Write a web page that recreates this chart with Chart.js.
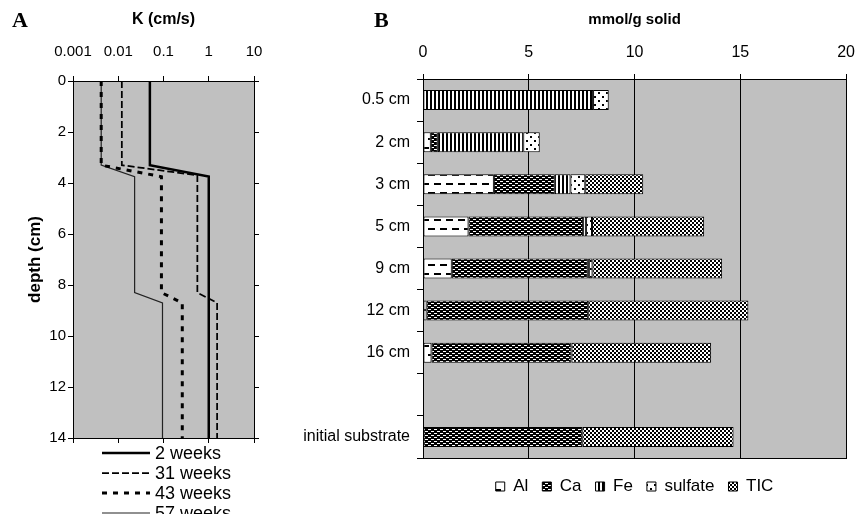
<!DOCTYPE html>
<html><head><meta charset="utf-8">
<script src="https://cdn.jsdelivr.net/npm/chart.js@4.4.1/dist/chart.umd.min.js"></script>
<style>
html,body{margin:0;padding:0;background:#fff;overflow:hidden;width:867px;height:514px;}
#wrap{position:relative;width:867px;height:514px;overflow:hidden;font-family:'Liberation Sans',Arial,sans-serif;color:#000;}
canvas{position:absolute;top:0;}
#cA{left:0;}
#cB{left:290px;}
.lbl{position:absolute;font-family:'Liberation Serif','Times New Roman',serif;font-weight:bold;font-size:22px;line-height:1;}
#legA{position:absolute;left:100px;top:443px;}
.row{height:20px;display:flex;align-items:center;font-size:18px;white-space:nowrap;}
.row svg{margin-left:2px;margin-right:5px;}
</style></head>
<body><div id="wrap">
<canvas id="cA" width="290" height="452"></canvas>
<canvas id="cB" width="577" height="514"></canvas>
<div class="lbl" style="left:12px;top:9px">A</div>
<div class="lbl" style="left:374px;top:9px">B</div>
<div id="legA"></div>
</div>
<script>
// ---------- Panel A data ----------
const depth2w  = [0, 3.3, 3.75, 14];
const k2w      = [0.05, 0.05, 1.0, 1.0];
const depth31w = [0, 3.3, 3.7, 8.3, 8.7, 14];
const k31w     = [0.012, 0.012, 0.56, 0.56, 1.53, 1.53];
const depth43w = [0, 3.3, 3.75, 8.3, 8.7, 14];
const k43w     = [0.0042, 0.0042, 0.09, 0.09, 0.26, 0.26];
const depth57w = [0, 3.3, 3.75, 8.3, 8.7, 14];
const k57w     = [0.0042, 0.0042, 0.023, 0.023, 0.095, 0.095];
const seriesLabelsA = ['2 weeks', '31 weeks', '43 weeks', '57 weeks'];
const kTicks = [0.001, 0.01, 0.1, 1, 10];
const kTickLabels = ['0.001', '0.01', '0.1', '1', '10'];

// ---------- Panel B data ----------
const categoriesB = ['0.5 cm', '2 cm', '3 cm', '5 cm', '9 cm', '12 cm', '16 cm', '', 'initial substrate'];
const alB      = [0,    0.37, 3.35, 2.15, 1.36, 0.17, 0.40, null, 0];
const caB      = [0,    0.33, 2.88, 5.42, 6.43, 7.64, 6.62, null, 7.53];
const feB      = [8.04, 4.04, 0.74, 0.14, 0.05, 0,    0,    null, 0];
const sulfateB = [0.74, 0.78, 0.70, 0.28, 0.17, 0,    0,    null, 0];
const ticB     = [0,    0,    2.74, 5.30, 6.13, 7.57, 6.60, null, 7.15];
const seriesLabelsB = ['Al', 'Ca', 'Fe', 'sulfate', 'TIC'];

Chart.defaults.font.family = "'Liberation Sans', Arial, sans-serif";
Chart.defaults.color = '#000';

const bgPlugin = {
  id: 'plotBg',
  beforeDraw(chart) {
    const {ctx, chartArea: a} = chart;
    ctx.save();
    ctx.fillStyle = '#c0c0c0';
    ctx.fillRect(a.left, a.top, a.right - a.left, a.bottom - a.top);
    ctx.restore();
  }
};

// ---------- Panel A chart ----------
const lineStylesA = [
  {w: 2.5, dash: []},
  {w: 1.75, dash: [7, 3]},
  {w: 3, dash: [5, 6]},
  {w: 1.2, dash: []}
];
const kSeries = [k2w, k31w, k43w, k57w];
const dSeries = [depth2w, depth31w, depth43w, depth57w];
const toPts = (ks, ds) => ks.map((k, i) => ({x: k, y: ds[i]}));
const decadeTicks = s => { s.ticks = kTicks.map(v => ({value: v})); };

new Chart(document.getElementById('cA'), {
  type: 'scatter',
  data: {
    datasets: seriesLabelsA.map((lab, i) => ({
      label: lab,
      data: toPts(kSeries[i], dSeries[i]),
      borderColor: i === 3 ? '#222' : '#000',
      borderWidth: lineStylesA[i].w,
      borderDash: lineStylesA[i].dash,
      showLine: true, pointRadius: 0, fill: false, tension: 0
    }))
  },
  options: {
    responsive: false, animation: false, devicePixelRatio: 1,
    layout: {padding: {left: 0, top: 0, right: 26, bottom: 8}},
    plugins: {legend: {display: false}, tooltip: {enabled: false}},
    scales: {
      x: {
        type: 'logarithmic', position: 'top', min: 0.001, max: 10,
        afterBuildTicks: decadeTicks,
        afterFit(s) { s.height = 81; },
        ticks: {
          callback: (v, i) => kTickLabels[i], autoSkip: false, maxRotation: 0, padding: 15,
          font: {family: "'Liberation Sans Narrow', 'Liberation Sans', Arial, sans-serif", size: 15}, color: '#000'
        },
        grid: {drawOnChartArea: false, color: '#000', tickLength: 5},
        border: {color: '#000', width: 1},
        title: {display: true, text: 'K (cm/s)', font: {size: 16, weight: 'bold'}, color: '#000', padding: {top: 10, bottom: 0}}
      },
      x2: {
        type: 'logarithmic', position: 'bottom', min: 0.001, max: 10,
        afterBuildTicks: decadeTicks,
        afterFit(s) { s.height = 6; },
        ticks: {display: false},
        grid: {drawOnChartArea: false, color: '#000', tickLength: 5},
        border: {color: '#000', width: 1}
      },
      y: {
        type: 'linear', position: 'left', reverse: true, min: 0, max: 14,
        afterFit(s) { s.width = 73; },
        ticks: {stepSize: 2, padding: 2, font: {size: 15}, color: '#000'},
        grid: {drawOnChartArea: false, color: '#000', tickLength: 5},
        border: {color: '#000', width: 1},
        title: {display: true, text: 'depth (cm)', font: {size: 17, weight: 'bold'}, color: '#000', padding: {top: 25, bottom: 0}}
      },
      y2: {
        type: 'linear', position: 'right', reverse: true, min: 0, max: 14,
        afterFit(s) { s.width = 10; },
        ticks: {stepSize: 2, display: false},
        grid: {drawOnChartArea: false, color: '#000', tickLength: 5},
        border: {color: '#000', width: 1}
      }
    }
  },
  plugins: [bgPlugin]
});

// HTML legend for panel A
const legA = document.getElementById('legA');
seriesLabelsA.forEach((lab, i) => {
  const st = lineStylesA[i];
  const row = document.createElement('div');
  row.className = 'row';
  row.innerHTML = '<svg width="48" height="8"><line x1="0" y1="4" x2="48" y2="4" stroke="' + (i === 3 ? '#222' : '#000') +
    '" stroke-width="' + st.w + '"' + (st.dash.length ? ' stroke-dasharray="' + st.dash.join(',') + '"' : '') + '/></svg>';
  const sp = document.createElement('span');
  sp.textContent = lab;
  row.appendChild(sp);
  legA.appendChild(row);
});

// ---------- Panel B patterns ----------
const cB = document.getElementById('cB');
const ctxB = cB.getContext('2d');
function makePattern(w, h, bg, fg, rects) {
  const c = document.createElement('canvas');
  c.width = w; c.height = h;
  const g = c.getContext('2d');
  g.fillStyle = bg; g.fillRect(0, 0, w, h);
  g.fillStyle = fg;
  rects.forEach(r => g.fillRect(r[0], r[1], r[2], r[3]));
  return ctxB.createPattern(c, 'repeat');
}
const patAl = makePattern(12, 18, '#fff', '#000', [[0, 3, 7, 2], [6, 12, 6, 2], [0, 12, 1, 2]]);
const patCa = makePattern(6, 4, '#000', '#fff', [[0, 1, 3, 1], [3, 3, 3, 1]]);
const patFe = makePattern(4, 1, '#fff', '#000', [[0, 0, 2, 1]]);
const patSulfate = makePattern(8, 8, '#fff', '#000', [[0, 0, 2, 2], [4, 4, 2, 2]]);
const patTIC = makePattern(4, 4, '#fff', '#000', [[0, 0, 2, 2], [2, 2, 2, 2]]);
const patternsB = [patAl, patCa, patFe, patSulfate, patTIC];
const valuesB = [alB, caB, feB, sulfateB, ticB];

new Chart(cB, {
  type: 'bar',
  data: {
    labels: categoriesB,
    datasets: seriesLabelsB.map((lab, i) => ({
      label: lab,
      data: valuesB[i],
      backgroundColor: patternsB[i],
      borderColor: '#000',
      borderWidth: 1,
      borderSkipped: false
    }))
  },
  options: {
    indexAxis: 'y', responsive: false, animation: false, devicePixelRatio: 1,
    layout: {padding: {left: 0, top: 0, right: 14, bottom: 9}},
    datasets: {bar: {barPercentage: 0.475, categoryPercentage: 1}},
    plugins: {
      legend: {
        position: 'bottom', fullSize: false,
        labels: {boxWidth: 9, boxHeight: 9, padding: 14, font: {size: 17}, color: '#000'}
      },
      tooltip: {enabled: false}
    },
    scales: {
      x: {
        type: 'linear', position: 'top', stacked: true, min: 0, max: 20,
        afterFit(s) { s.height = 79; },
        ticks: {stepSize: 5, padding: 12, font: {size: 16}, color: '#000', maxRotation: 0},
        grid: {color: '#000', tickLength: 5, lineWidth: 1},
        border: {color: '#000', width: 1},
        title: {display: true, text: 'mmol/g solid', font: {size: 15, weight: 'bold'}, color: '#000', padding: {top: 11, bottom: 0}}
      },
      x2: {
        type: 'linear', position: 'bottom', min: 0, max: 20,
        afterFit(s) { s.height = 6; },
        ticks: {display: false},
        grid: {display: false},
        border: {color: '#000', width: 1}
      },
      y: {
        type: 'category', position: 'left', stacked: true,
        afterFit(s) { s.width = 133; },
        ticks: {padding: 7, font: {size: 16}, color: '#000', autoSkip: false},
        grid: {drawOnChartArea: false, color: '#000', tickLength: 6, offset: true},
        border: {color: '#000', width: 1}
      }
    }
  },
  plugins: [bgPlugin]
});
</script>
</body></html>
